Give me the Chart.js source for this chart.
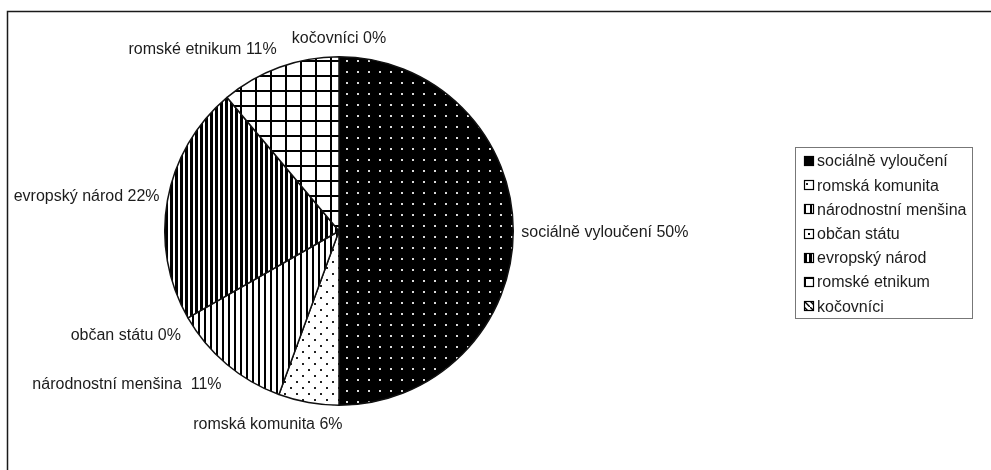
<!DOCTYPE html>
<html>
<head>
<meta charset="utf-8">
<script src="https://cdn.jsdelivr.net/npm/chart.js@4.4.1/dist/chart.umd.min.js"></script>
<style>
  html, body { margin: 0; padding: 0; background: #ffffff; }
  #wrap { width: 991px; height: 470px; position: relative; }
</style>
</head>
<body>
<div id="wrap"><canvas id="c" width="991" height="470"></canvas></div>
<script>
// ---- data ----
const categories = ['sociálně vyloučení', 'romská komunita', 'národnostní menšina', 'občan státu', 'evropský národ', 'romské etnikum', 'kočovníci'];
const shares = [50, 5.6, 11.1, 0, 22.2, 11.1, 0];           // percent of respondents
const pctLabels = ['50%', '6%', '11%', '0%', '22%', '11%', '0%'];
const labelSeparators = [' ', ' ', '  ', ' ', ' ', ' ', ' '];

// ---- patterns ----
function makePattern(w, h, draw) {
  const c = document.createElement('canvas');
  c.width = w; c.height = h;
  const x = c.getContext('2d');
  draw(x, w, h);
  return x.createPattern(c, 'repeat');
}
const patterns = [
  // sociálně vyloučení: black with light dots
  makePattern(11, 11, (x) => { x.fillStyle = '#000'; x.fillRect(0, 0, 11, 11); x.fillStyle = '#dcdcdc'; x.fillRect(5, 5, 2, 2); }),
  // romská komunita: white with black dots
  makePattern(12, 12, (x) => { x.fillStyle = '#fff'; x.fillRect(0, 0, 12, 12); x.fillStyle = '#222'; x.fillRect(2, 3, 2, 2); x.fillRect(8, 9, 2, 2); }),
  // národnostní menšina: thin vertical lines
  makePattern(6, 6, (x) => { x.fillStyle = '#fff'; x.fillRect(0, 0, 6, 6); x.fillStyle = '#000'; x.fillRect(0, 0, 2, 6); }),
  // občan státu: sparse dots
  makePattern(8, 8, (x) => { x.fillStyle = '#fff'; x.fillRect(0, 0, 8, 8); x.fillStyle = '#000'; x.fillRect(4, 4, 2, 2); }),
  // evropský národ: dense vertical lines
  makePattern(5, 5, (x) => { x.fillStyle = '#fff'; x.fillRect(0, 0, 5, 5); x.fillStyle = '#000'; x.fillRect(0, 0, 3, 5); }),
  // romské etnikum: grid
  makePattern(15, 15, (x) => { x.fillStyle = '#fff'; x.fillRect(0, 0, 15, 15); x.fillStyle = '#000'; x.fillRect(0, 0, 2, 15); x.fillRect(0, 0, 15, 2); }),
  // kočovníci: diagonal hatch
  makePattern(6, 6, (x) => { x.fillStyle = '#fff'; x.fillRect(0, 0, 6, 6); x.strokeStyle = '#000'; x.lineWidth = 1.5; x.beginPath(); x.moveTo(0, 0); x.lineTo(6, 6); x.stroke(); })
];
// pattern origin shift used for the small legend markers
const markerShift = [6, 0, 0, 0, 0, 0, 0];

const FONT = '16px "Liberation Sans", Arial, sans-serif';
const TEXT_COLOR = '#1c1c1c';

// frame (top and left edges visible, the rest is cut off)
const framePlugin = {
  id: 'frame',
  beforeDraw(chart) {
    const c = chart.ctx;
    c.save();
    c.fillStyle = '#fff';
    c.fillRect(0, 0, chart.width, chart.height);
    c.strokeStyle = '#1a1a1a';
    c.lineWidth = 1.5;
    c.strokeRect(7.5, 11.5, chart.width + 50, chart.height + 50);
    c.restore();
  }
};

// outside-end data labels, Excel style
const labelPlugin = {
  id: 'outLabels',
  afterDatasetsDraw(chart) {
    const c = chart.ctx;
    const meta = chart.getDatasetMeta(0);
    c.save();
    c.font = FONT;
    c.fillStyle = TEXT_COLOR;
    c.textBaseline = 'middle';
    c.textAlign = 'center';
    meta.data.forEach((arc, i) => {
      const p = arc.getProps(['x', 'y', 'startAngle', 'endAngle', 'outerRadius'], true);
      const mid = (p.startAngle + p.endAngle) / 2;
      const r = p.outerRadius + 8;
      const ax = p.x + Math.cos(mid) * r;
      const ay = p.y + Math.sin(mid) * r;
      const txt = categories[i] + labelSeparators[i] + pctLabels[i];
      const w = c.measureText(txt).width;
      const f = Math.max(-1, Math.min(1, 3 * Math.cos(mid)));
      const g = Math.max(-1, Math.min(1, 2 * Math.sin(mid)));
      c.fillText(txt, ax + f * w / 2, ay + 2 + g * 12);
    });
    c.restore();
  }
};

// boxed legend on the right
const legendPlugin = {
  id: 'boxLegend',
  afterDraw(chart) {
    const c = chart.ctx;
    const bx = 795, by = 147, bw = 177, bh = 171;
    c.save();
    c.strokeStyle = '#777';
    c.lineWidth = 1;
    c.strokeRect(bx + 0.5, by + 0.5, bw, bh);
    c.font = FONT;
    c.textBaseline = 'middle';
    c.textAlign = 'left';
    categories.forEach((cat, i) => {
      const cy = by + 14 + i * 24.2;
      const mx = 804, my = Math.round(cy - 5);
      c.save();
      c.translate(mx - markerShift[i], my - markerShift[i]);
      c.fillStyle = patterns[i];
      c.fillRect(markerShift[i], markerShift[i], 10, 10);
      c.restore();
      c.strokeStyle = '#000';
      c.lineWidth = 1.2;
      c.strokeRect(mx + 0.5, my + 0.5, 9, 9);
      c.fillStyle = TEXT_COLOR;
      c.fillText(cat, 817, cy + 1);
    });
    c.restore();
  }
};

new Chart(document.getElementById('c'), {
  type: 'pie',
  data: {
    labels: categories,
    datasets: [{
      data: shares,
      backgroundColor: patterns,
      borderColor: '#111',
      borderWidth: 1.5
    }]
  },
  options: {
    responsive: false,
    animation: false,
    layout: { padding: { left: 164, right: 477, top: 56, bottom: 64 } },
    plugins: {
      legend: { display: false },
      tooltip: { enabled: false },
      title: { display: false }
    }
  },
  plugins: [framePlugin, labelPlugin, legendPlugin]
});
</script>
</body>
</html>
